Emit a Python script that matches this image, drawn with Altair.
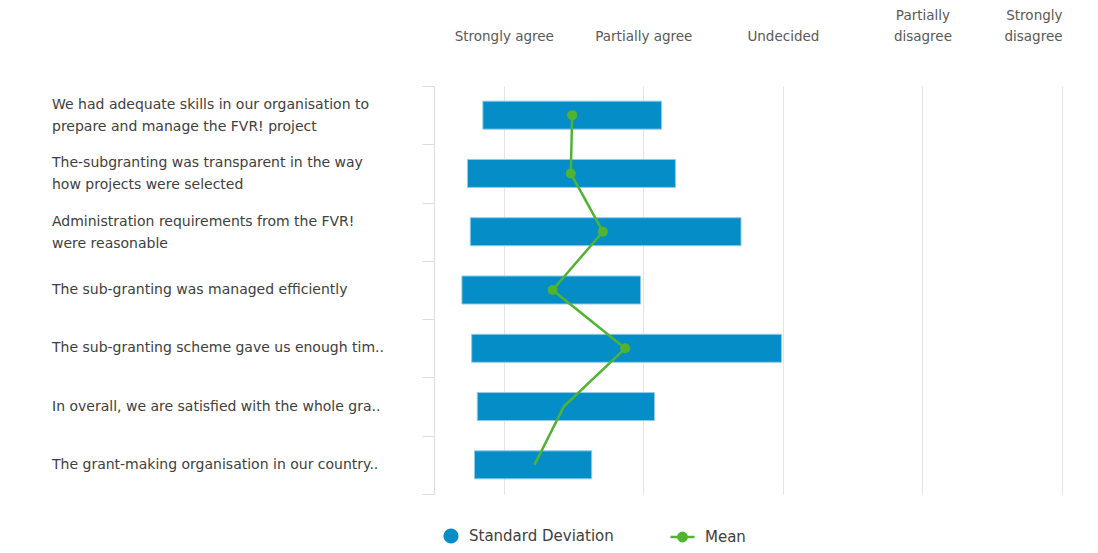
import altair as alt
import pandas as pd

categories = [
    "We had adequate skills in our organisation to|prepare and manage the FVR! project",
    "The-subgranting was transparent in the way|how projects were selected",
    "Administration requirements from the FVR!|were reasonable",
    "The sub-granting was managed efficiently",
    "The sub-granting scheme gave us enough tim..",
    "In overall, we are satisfied with the whole gra..",
    "The grant-making organisation in our country..",
]
sd_low = [0.85, 0.74, 0.76, 0.70, 0.77, 0.81, 0.79]
sd_high = [2.13, 2.23, 2.70, 1.98, 2.99, 2.08, 1.63]
mean = [1.49, 1.48, 1.71, 1.35, 1.87, 1.43, 1.22]
x_ticks = [1, 2, 3, 4, 5]
x_tick_labels = ["|Strongly agree", "|Partially agree", "|Undecided",
                 "Partially|disagree", "Strongly|disagree"]
series_names = ["Standard Deviation", "Mean"]

BLUE = "#058DC7"
GREEN = "#50B432"
FONT = "DejaVu Sans"

df = pd.DataFrame({
    "cat": categories,
    "low": sd_low,
    "high": sd_high,
    "mean": mean,
    "idx": list(range(len(categories))),
    "sd_series": series_names[0],
    "mean_series": series_names[1],
})

label_arr = "[" + ",".join("'" + s + "'" for s in x_tick_labels) + "]"
x_label_expr = "split(" + label_arr + "[datum.value - 1], '|')"

x_scale = alt.Scale(domain=[0.5, 5], nice=False, zero=False)
y_scale = alt.Scale(paddingInner=0, paddingOuter=0)

x_axis = alt.Axis(
    orient="top", values=x_ticks, labelExpr=x_label_expr, title=None,
    domain=False, ticks=False, tickSize=0, grid=True, gridColor="#e4e4e4",
    labelFont=FONT, labelFontSize=13.5, labelColor="#595959",
    labelPadding=64, labelBaseline="bottom", labelLineHeight=21,
)
y_axis = alt.Axis(
    title=None, domain=True, domainColor="#dddddd", ticks=True, tickColor="#dddddd",
    tickSize=12, tickBand="extent", labels=False,
)

base = alt.Chart(df)

bars = base.mark_bar(size=28, stroke="#8fcbe9", strokeWidth=1).encode(
    y=alt.Y("cat:N", sort=categories, scale=y_scale, axis=y_axis),
    x=alt.X("low:Q", scale=x_scale, axis=x_axis),
    x2="high:Q",
    fill=alt.Fill("sd_series:N", scale=alt.Scale(range=[BLUE]), legend=alt.Legend(
        title=None, orient="none", legendX=9, legendY=442,
        symbolType="circle", symbolSize=230, symbolStrokeWidth=0,
        labelFont=FONT, labelFontSize=15, labelColor="#404040", labelOffset=10,
    )),
)

line = base.mark_line(strokeWidth=2.5).encode(
    y=alt.Y("cat:N", sort=categories),
    x=alt.X("mean:Q"),
    order="idx:Q",
    stroke=alt.Stroke("mean_series:N", scale=alt.Scale(range=[GREEN]), legend=alt.Legend(
        title=None, orient="none", legendX=235, legendY=437.5,
        symbolType="M-1,0H1M0.35,0A0.35,0.35 0 1,1 -0.35,0A0.35,0.35 0 1,1 0.35,0",
        symbolSize=576, symbolStrokeWidth=2.5, symbolFillColor=GREEN,
        labelFont=FONT, labelFontSize=15, labelColor="#404040", labelOffset=9,
    )),
)

points = base.transform_filter(alt.datum.idx < 5).mark_point(
    filled=True, size=100, color=GREEN, opacity=1
).encode(
    y=alt.Y("cat:N", sort=categories),
    x=alt.X("mean:Q"),
)

label_kw = dict(align="left", baseline="middle", font=FONT, fontSize=14,
                color="#404040", lineHeight=22)
labels_two = base.transform_filter("indexof(datum.cat, '|') >= 0").transform_calculate(
    lines="split(datum.cat, '|')"
).mark_text(dy=-10, **label_kw).encode(
    y=alt.Y("cat:N", sort=categories),
    x=alt.value(-382),
    text="lines:N",
)
labels_one = base.transform_filter("indexof(datum.cat, '|') < 0").mark_text(
    dy=0, **label_kw
).encode(
    y=alt.Y("cat:N", sort=categories),
    x=alt.value(-382),
    text="cat:N",
)

chart = alt.layer(bars, line, points, labels_two, labels_one).properties(
    width=628, height=408,
    autosize=alt.AutoSizeParams(type="none"),
    padding={"left": 426, "top": 78, "right": 28, "bottom": 51},
).configure_view(stroke=None)

chart.save("out.html", embed_options={"renderer": "svg", "actions": False})
